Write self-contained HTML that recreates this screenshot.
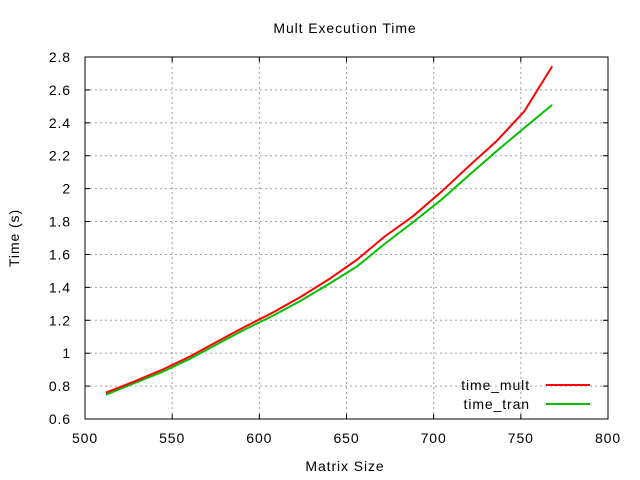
<!DOCTYPE html>
<html><head><meta charset="utf-8"><style>
body{margin:0;background:#fff}
svg{display:block;font-family:"Liberation Sans",sans-serif}
text{letter-spacing:0.9px}
</style></head><body>
<svg id="chart" width="640" height="480" xmlns="http://www.w3.org/2000/svg">
<rect width="640" height="480" fill="#fff"/>
<g id="grid"></g>
<g id="axes"></g>
<g id="series"></g>
<text x="345" y="33" text-anchor="middle" font-size="14">Mult Execution Time</text>
<text x="345" y="471" text-anchor="middle" font-size="14">Matrix Size</text>
<text x="19" y="238" text-anchor="middle" font-size="14" transform="rotate(-90 19 238)">Time (s)</text>
<g>
<text x="530" y="390" text-anchor="end" font-size="14">time_mult</text>
<line x1="546" y1="385" x2="590" y2="385" stroke="#ff0000" stroke-width="2"/>
<text x="530" y="409" text-anchor="end" font-size="14">time_tran</text>
<line x1="546" y1="404" x2="590" y2="404" stroke="#00c000" stroke-width="2"/>
</g>
</svg>
<script>
const sizes=[512,528,544,560,576,592,608,624,640,656,672,688,704,720,736,752,768];
const timeMult=[0.760,0.827,0.898,0.979,1.071,1.162,1.249,1.344,1.450,1.568,1.710,1.831,1.977,2.135,2.288,2.470,2.744];
const timeTran=[0.748,0.817,0.884,0.965,1.056,1.146,1.229,1.320,1.421,1.527,1.665,1.795,1.929,2.079,2.227,2.369,2.509];
const xTicks=[500,550,600,650,700,750,800];
const yTicks=[0.6,0.8,1,1.2,1.4,1.6,1.8,2,2.2,2.4,2.6,2.8];
const L=85,R=608,T=57,B=419;
const xs=v=>L+(v-500)/300*(R-L);
const ys=v=>B-(v-0.6)/2.2*(B-T);
const NS="http://www.w3.org/2000/svg";
function mk(tag,attrs,parent){const e=document.createElementNS(NS,tag);for(const k in attrs)e.setAttribute(k,attrs[k]);parent.appendChild(e);return e;}
const grid=document.getElementById('grid'),axes=document.getElementById('axes'),series=document.getElementById('series');
xTicks.forEach(v=>{const x=xs(v);
 if(v>500&&v<800){const g=mk('line',{x1:x,y1:T,x2:x,y2:B,stroke:'#a0a0a0','stroke-dasharray':'2,3'},grid);
 
 }
 const t1=mk('line',{x1:x,y1:B,x2:x,y2:B-5,stroke:'#000'},axes);
 
 
 const t2=mk('line',{x1:x,y1:T,x2:x,y2:T+5,stroke:'#000'},axes);
 
 
 const lb=mk('text',{x:x,y:443,'text-anchor':'middle','font-size':'14'},axes);lb.textContent=v;
 
 
});
yTicks.forEach(v=>{const y=ys(v);
 if(v>0.61&&v<2.79){const g=mk('line',{x1:L,y1:y,x2:R,y2:y,stroke:'#a0a0a0','stroke-dasharray':'2,3'},grid);
 
 }
 const t1=mk('line',{x1:L,y1:y,x2:L+5,y2:y,stroke:'#000'},axes);
 
 
 const t2=mk('line',{x1:R,y1:y,x2:R-5,y2:y,stroke:'#000'},axes);
 
 
 const lb=mk('text',{x:71,y:y+5,'text-anchor':'end','font-size':'14'},axes);lb.textContent=String(v);
 
 
});
const fr=mk('rect',{x:L,y:T,width:R-L,height:B-T,fill:'none',stroke:'#000'},axes);


function line(vals,color,name){
 const p=mk('polyline',{points:sizes.map((s,i)=>xs(s)+','+ys(vals[i])).join(' '),fill:'none',stroke:color,'stroke-width':2},series);
 
 
}
line(timeTran,'#00c000','line-time-tran');
line(timeMult,'#ff0000','line-time-mult');
</script>
</body></html>
